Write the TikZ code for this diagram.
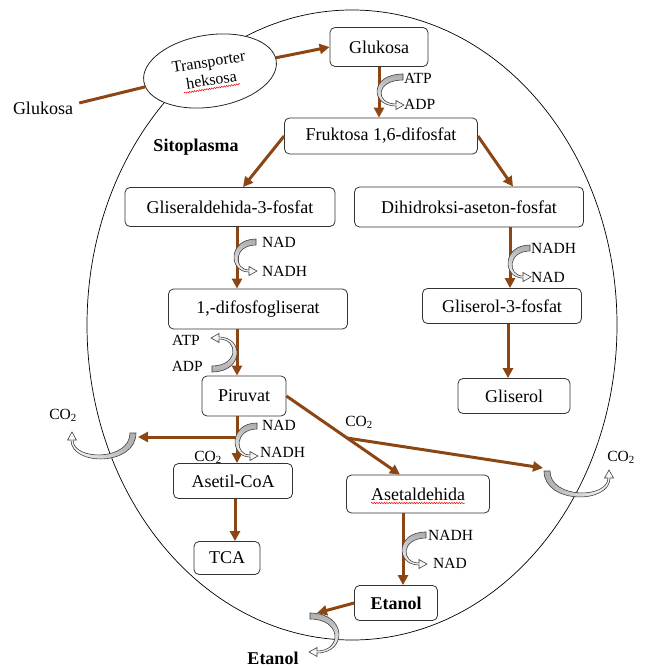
\documentclass[tikz,border=0pt]{standalone}
\usepackage{fontspec}
\setmainfont{Liberation Serif}
\usetikzlibrary{shapes.geometric, arrows.meta, calc, decorations.pathmorphing}
\definecolor{brn}{RGB}{140,70,20}
\newcommand\bentarr[6]{%
  \begin{scope}[shift={#1}, x={#2}, y={#3}]
    \pgfmathsetmacro\bco{-(#4+2)*4/3}
    \pgfmathsetmacro\bci{-(#4-2)*4/3}
    \path[draw=black!75, line width=0.6pt, #6]
      (0,-3) .. controls (\bco,-3) and (\bco,#5+1) .. (-7,#5+1)
      -- (-7,#5+4.5) -- (1,#5) -- (-7,#5-4.5) -- (-7,#5-1)
      .. controls (\bci,#5-1) and (\bci,3) .. (0,3) -- cycle;
  \end{scope}}
\begin{document}
\begin{tikzpicture}[x=1pt, y=-1pt,
  box/.style={draw=black!80, line width=0.8pt, rounded corners=5pt, fill=white, inner sep=0pt, font=\fontsize{18}{20}\selectfont},
  lbl/.style={inner sep=0pt, font=\fontsize{15.5}{17}\selectfont},
  big/.style={inner sep=0pt, font=\fontsize{18}{20}\selectfont},
  arr/.style={draw=brn, line width=3pt, -{Triangle[length=10pt, width=10pt]}},
  ln/.style={draw=brn, line width=3pt},
  squig/.style={draw=red, line width=0.5pt, decorate, decoration={snake, amplitude=0.7pt, segment length=2.5pt}},
  gv/.style={top color=gray!65, bottom color=white},
  gvup/.style={bottom color=gray!65, top color=white},
  gl/.style={left color=white, right color=gray!65},
  gr/.style={left color=gray!65, right color=white}]
\useasboundingbox (0,0) rectangle (646,668);
\draw[line width=0.7pt] (352,325) ellipse [x radius=265pt, y radius=315pt];

% transporter
\node[ellipse, draw=black!85, line width=0.8pt, fill=white, minimum width=134pt, minimum height=72pt, inner sep=0pt, rotate=9, align=center, font=\fontsize{16}{18.5}\selectfont] (trans) at (210,71) {Transporter\\heksosa};
\draw[squig] (184,93) -- (240,84);
\node[big] (gout) at (43,108) {Glukosa};
\node[big, font=\fontsize{18}{20}\selectfont\bfseries] (sito) at (196,147) {Sitoplasma};

% CO2 label partly hidden by Asetil-CoA box
\node[lbl] (co2b) at (208,457) {CO\textsubscript{2}};

% boxes
\node[box, minimum width=98pt, minimum height=39pt] (gluk) at (379,47) {Glukosa};
\node[box, minimum width=193pt, minimum height=36pt] (fruk) at (381,136) {Fruktosa 1,6-difosfat};
\node[box, minimum width=210pt, minimum height=39pt] (glis) at (230,207) {Gliseraldehida-3-fosfat};
\node[box, minimum width=229pt, minimum height=40pt] (dihi) at (469,207) {Dihidroksi-aseton-fosfat};
\node[box, minimum width=179pt, minimum height=40pt] (difo) at (258,309) {1,-difosfogliserat};
\node[box, minimum width=159pt, minimum height=35pt] (g3p) at (502,306) {Gliserol-3-fosfat};
\node[box, minimum width=84pt, minimum height=40pt] (piru) at (244,396) {Piruvat};
\node[box, minimum width=112pt, minimum height=35pt] (glsr) at (514,396) {Gliserol};
\node[box, minimum width=119pt, minimum height=35pt] (asco) at (233,481) {Asetil-CoA};
\node[box, minimum width=143pt, minimum height=38pt] (aset) at (418,494) {Asetaldehida};
\draw[squig] (371,503) -- (465,503);
\node[box, minimum width=66pt, minimum height=33pt] (tca) at (227,558) {TCA};
\node[box, minimum width=83pt, minimum height=35pt, font=\fontsize{18}{20}\selectfont\bfseries] (etan) at (396,603) {Etanol};

% connectors
\draw[ln] ([shift={(6,-5)}]gout.east) -- (trans);
\draw[arr] (trans) -- (gluk.west);
\draw[arr] (gluk.south) -- (gluk.south |- fruk.north);
\draw[arr] (fruk.west) -- ([xshift=13pt]glis.north);
\draw[arr] (fruk.east) -- ([xshift=44pt]dihi.north);
\draw[arr] ([xshift=7pt]glis.south) -- ([xshift=7pt]glis.south |- difo.north);
\draw[arr] ([xshift=41pt]dihi.south) -- ([xshift=41pt]dihi.south |- g3p.north);
\draw[arr] ([xshift=-21pt]difo.south) -- ([xshift=-21pt]difo.south |- piru.north);
\draw[arr] ([xshift=6pt]g3p.south) -- ([xshift=6pt]g3p.south |- glsr.north);
\draw[arr] ([xshift=-7pt]piru.south) -- ([xshift=-7pt]piru.south |- asco.north);
\coordinate (b1) at (237,437);
\coordinate (co2l) at (138,437);
\draw[arr] (b1) -- (co2l);
\draw[arr] (piru.east) -- ([xshift=-18pt]aset.north);
\coordinate (b2) at ($(piru.east)!0.535!([xshift=-18pt]aset.north)$);
\coordinate (co2r) at (543,468);
\draw[arr] (b2) -- (co2r);
\draw[arr] ([xshift=2pt]asco.south) -- ([xshift=2pt]asco.south |- tca.north);
\draw[arr] ([xshift=-15pt]aset.south) -- ([xshift=-15pt]aset.south |- etan.north);
\coordinate (eout) at (317,613);
\draw[arr] (etan.west) -- (eout);

% bent grey arrows
\bentarr{(403,77)}{(1pt,0pt)}{(0pt,-1pt)}{23}{28}{gv}
\bentarr{(256,242)}{(1pt,0pt)}{(0pt,-1pt)}{19}{29}{gv}
\bentarr{(530,248)}{(1pt,0pt)}{(0pt,-1pt)}{19}{29}{gv}
\bentarr{(257,426)}{(1pt,0pt)}{(0pt,-1pt)}{19}{30}{gv}
\bentarr{(426,535)}{(1pt,0pt)}{(0pt,-1pt)}{21}{29}{gv}
\bentarr{(212,369)}{(-1pt,0pt)}{(0pt,1pt)}{22}{31}{gvup}
\bentarr{(133,433)}{(0pt,1pt)}{(-1pt,0pt)}{23}{61}{gl}
\bentarr{(547,471)}{(0pt,1pt)}{(1pt,0pt)}{23}{62}{gr}
\bentarr{(310,616)}{(-1pt,0pt)}{(0pt,-1pt)}{26}{36}{gv}

% labels
\node[lbl, anchor=west] (l1) at (404,78) {ATP};
\node[lbl, anchor=west] (l2) at (404,104) {ADP};
\node[lbl, anchor=west] (l3) at (262,242) {NAD};
\node[lbl, anchor=west] (l4) at (262,271) {NADH};
\node[lbl, anchor=west] (l5) at (531,248) {NADH};
\node[lbl, anchor=west] (l6) at (531,277) {NAD};
\node[lbl, anchor=east] (l7) at (200,340) {ATP};
\node[lbl, anchor=east] (l8) at (203,366) {ADP};
\node[lbl, anchor=west] (l9) at (262,425) {NAD};
\node[lbl, anchor=west] (l10) at (260,452) {NADH};
\node[lbl, anchor=west] (l11) at (428,535) {NADH};
\node[lbl, anchor=west] (l12) at (433,563) {NAD};
\node[lbl] (co2a) at (63,415) {CO\textsubscript{2}};
\node[lbl] (co2c) at (359,422) {CO\textsubscript{2}};
\node[lbl] (co2d) at (621,457) {CO\textsubscript{2}};
\node[big, font=\fontsize{18}{20}\selectfont\bfseries] (eout2) at (273,658) {Etanol};
\end{tikzpicture}
\end{document}
